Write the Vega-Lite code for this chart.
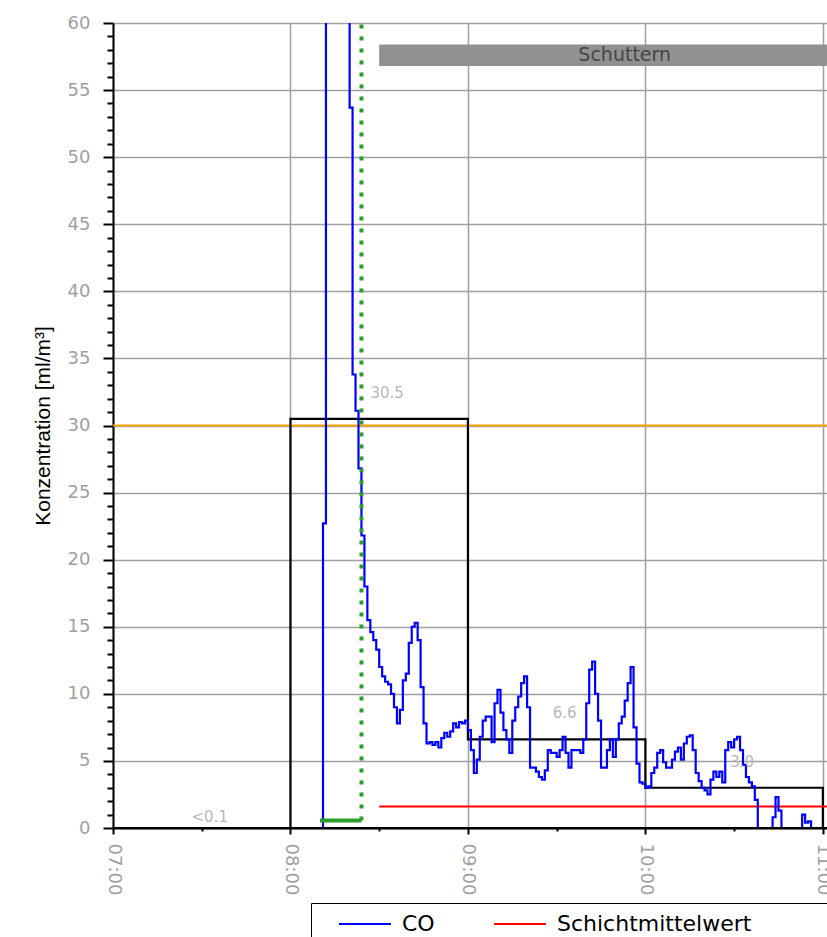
{
  "$schema": "https://vega.github.io/schema/vega-lite/v6.json",
  "width": 714,
  "height": 805,
  "autosize": {"type": "none"},
  "padding": {"left": 113, "top": 23, "right": 0, "bottom": 109},
  "background": "white",
  "config": {"view": {"stroke": null}},
  "encoding": {
    "x": {
      "field": "t",
      "type": "temporal",
      "scale": {
        "domain": ["2024-01-01T07:00:00", "2024-01-01T11:01:24"],
        "nice": false
      },
      "axis": {
        "title": null,
        "values": ["2024-01-01T07:00:00", "2024-01-01T07:30:00", "2024-01-01T08:00:00", "2024-01-01T08:30:00", "2024-01-01T09:00:00", "2024-01-01T09:30:00", "2024-01-01T10:00:00", "2024-01-01T10:30:00", "2024-01-01T11:00:00"],
        "format": "%H:%M",
        "labelExpr": "minutes(datum.value) === 0 ? datum.label : ''",
        "labelAngle": 90,
        "labelAlign": "left",
        "labelBaseline": "middle",
        "labelColor": "#a0a0a0",
        "labelFont": "DejaVu Sans",
        "labelFontSize": 18,
        "labelPadding": 9,
        "labelOverlap": false,
        "labelFlush": false,
        "tickColor": "black",
        "tickWidth": 2,
        "tickSize": 6,
        "tickDash": {"condition": {"test": "minutes(datum.value) === 0", "value": []}, "value": [3, 20]},
        "domainColor": "black",
        "domainWidth": 2,
        "grid": true,
        "gridColor": "#a0a0a0",
        "gridWidth": 1.5,
        "gridOpacity": {"condition": {"test": "minutes(datum.value) === 0", "value": 1}, "value": 0},
        "zindex": 0
      }
    },
    "y": {
      "field": "v",
      "type": "quantitative",
      "scale": {"domain": [0, 60], "nice": false, "zero": false},
      "axis": {
        "title": "Konzentration [ml/m³]",
        "titleFont": "Liberation Sans",
        "titleFontSize": 21,
        "titleFontWeight": "normal",
        "titleColor": "black",
        "titlePadding": 14,
        "values": [0,1,2,3,4,5,6,7,8,9,10,11,12,13,14,15,16,17,18,19,20,21,22,23,24,25,26,27,28,29,30,31,32,33,34,35,36,37,38,39,40,41,42,43,44,45,46,47,48,49,50,51,52,53,54,55,56,57,58,59,60],
        "labelExpr": "datum.value % 5 === 0 ? datum.label : ''",
        "labelColor": "#a0a0a0",
        "labelFont": "DejaVu Sans",
        "labelFontSize": 18,
        "labelPadding": 13,
        "labelOverlap": false,
        "labelFlush": false,
        "tickColor": "black",
        "tickWidth": 2,
        "tickSize": 10,
        "tickDash": {"condition": {"test": "datum.value % 5 === 0", "value": []}, "value": [6, 30]},
        "domainColor": "black",
        "domainWidth": 2,
        "grid": true,
        "gridColor": "#a0a0a0",
        "gridWidth": 1.5,
        "gridOpacity": {"condition": {"test": "datum.value % 5 === 0", "value": 1}, "value": 0},
        "zindex": 0
      }
    }
  },
  "layer": [
    {
      "data": {"values": [{"t": "2024-01-01T07:00:00", "t2": "2024-01-01T12:00:00", "v": 30}]},
      "mark": {"type": "rule", "color": "#ffa500", "strokeWidth": 2, "clip": true},
      "encoding": {"x2": {"field": "t2"}}
    },
    {
      "data": {"values": [{"t": "2024-01-01T08:30:00", "t2": "2024-01-01T11:17:00", "v": 56.8, "v2": 58.4}]},
      "mark": {"type": "rect", "color": "#919191", "clip": true},
      "encoding": {"x2": {"field": "t2"}, "y2": {"field": "v2"}}
    },
    {
      "data": {"values": [{"t": "2024-01-01T09:53:00", "v": 57.6, "label": "Schuttern"}]},
      "mark": {"type": "text", "font": "DejaVu Sans", "fontSize": 19, "color": "#454545", "align": "center", "baseline": "middle"},
      "encoding": {"text": {"field": "label"}}
    },
    {
      "data": {"values": [
        {"t": "2024-01-01T07:00:00", "v": 0},
        {"t": "2024-01-01T08:00:00", "v": 30.5},
        {"t": "2024-01-01T09:00:00", "v": 6.6},
        {"t": "2024-01-01T10:00:00", "v": 3.0},
        {"t": "2024-01-01T11:00:00", "v": 0}
      ]},
      "mark": {"type": "line", "interpolate": "step-after", "color": "black", "strokeWidth": 2.2, "clip": true},
      "encoding": {}
    },
    {
      "data": {"values": [{"t": "2024-01-01T08:30:00", "t2": "2024-01-01T12:00:00", "v": 1.6, "series": "Schichtmittelwert"}]},
      "mark": {"type": "rule", "strokeWidth": 2, "clip": true},
      "encoding": {
        "x2": {"field": "t2"},
        "color": {"field": "series", "type": "nominal", "scale": {"domain": ["CO", "Schichtmittelwert"], "range": ["#0000ff", "#ff0000"]},
          "legend": {
            "orient": "none", "legendX": 198, "legendY": 880, "direction": "horizontal",
            "title": " ", "titleOrient": "right", "titlePadding": 90, "titleFontSize": 44, "titleBaseline": "top",
            "strokeColor": "black", "fillColor": "white", "padding": 0,
            "symbolType": "M-1.3,0H1.3", "symbolSize": 1600, "symbolStrokeWidth": 2, "symbolOffset": 33,
            "labelFont": "DejaVu Sans", "labelFontSize": 22, "labelColor": "black", "labelOffset": 16,
            "columnPadding": 31, "labelLimit": 400
          }
        }
      }
    },
    {
      "data": {"values": [
        {"t": "2024-01-01T08:10:00", "v": 0, "series": "CO"}, {"t": "2024-01-01T08:11:00", "v": 22.7, "series": "CO"}, {"t": "2024-01-01T08:12:00", "v": 80, "series": "CO"}, {"t": "2024-01-01T08:13:00", "v": 80, "series": "CO"},
        {"t": "2024-01-01T08:14:00", "v": 80, "series": "CO"}, {"t": "2024-01-01T08:15:00", "v": 80, "series": "CO"}, {"t": "2024-01-01T08:16:00", "v": 80, "series": "CO"}, {"t": "2024-01-01T08:17:00", "v": 80, "series": "CO"},
        {"t": "2024-01-01T08:18:00", "v": 80, "series": "CO"}, {"t": "2024-01-01T08:19:00", "v": 80, "series": "CO"}, {"t": "2024-01-01T08:20:00", "v": 53.7, "series": "CO"}, {"t": "2024-01-01T08:21:00", "v": 33.8, "series": "CO"},
        {"t": "2024-01-01T08:22:00", "v": 31.1, "series": "CO"}, {"t": "2024-01-01T08:23:00", "v": 26.8, "series": "CO"}, {"t": "2024-01-01T08:24:00", "v": 21.8, "series": "CO"}, {"t": "2024-01-01T08:25:00", "v": 18, "series": "CO"},
        {"t": "2024-01-01T08:26:00", "v": 15.5, "series": "CO"}, {"t": "2024-01-01T08:27:00", "v": 14.6, "series": "CO"}, {"t": "2024-01-01T08:28:00", "v": 14, "series": "CO"}, {"t": "2024-01-01T08:29:00", "v": 13.3, "series": "CO"},
        {"t": "2024-01-01T08:30:00", "v": 12, "series": "CO"}, {"t": "2024-01-01T08:31:00", "v": 11.3, "series": "CO"}, {"t": "2024-01-01T08:32:00", "v": 10.9, "series": "CO"}, {"t": "2024-01-01T08:33:00", "v": 10.7, "series": "CO"},
        {"t": "2024-01-01T08:34:00", "v": 10, "series": "CO"}, {"t": "2024-01-01T08:35:00", "v": 9, "series": "CO"}, {"t": "2024-01-01T08:36:00", "v": 7.8, "series": "CO"}, {"t": "2024-01-01T08:37:00", "v": 8.8, "series": "CO"},
        {"t": "2024-01-01T08:38:00", "v": 11, "series": "CO"}, {"t": "2024-01-01T08:39:00", "v": 11.5, "series": "CO"}, {"t": "2024-01-01T08:40:00", "v": 13.8, "series": "CO"}, {"t": "2024-01-01T08:41:00", "v": 15, "series": "CO"},
        {"t": "2024-01-01T08:42:00", "v": 15.3, "series": "CO"}, {"t": "2024-01-01T08:43:00", "v": 14, "series": "CO"}, {"t": "2024-01-01T08:44:00", "v": 10.5, "series": "CO"}, {"t": "2024-01-01T08:45:00", "v": 7.8, "series": "CO"},
        {"t": "2024-01-01T08:46:00", "v": 6.3, "series": "CO"}, {"t": "2024-01-01T08:47:00", "v": 6.4, "series": "CO"}, {"t": "2024-01-01T08:48:00", "v": 6.2, "series": "CO"}, {"t": "2024-01-01T08:49:00", "v": 6.4, "series": "CO"},
        {"t": "2024-01-01T08:50:00", "v": 6.0, "series": "CO"}, {"t": "2024-01-01T08:51:00", "v": 6.7, "series": "CO"}, {"t": "2024-01-01T08:52:00", "v": 7.1, "series": "CO"}, {"t": "2024-01-01T08:53:00", "v": 6.8, "series": "CO"},
        {"t": "2024-01-01T08:54:00", "v": 7.2, "series": "CO"}, {"t": "2024-01-01T08:55:00", "v": 7.8, "series": "CO"}, {"t": "2024-01-01T08:56:00", "v": 7.5, "series": "CO"}, {"t": "2024-01-01T08:57:00", "v": 7.9, "series": "CO"},
        {"t": "2024-01-01T08:58:00", "v": 7.8, "series": "CO"}, {"t": "2024-01-01T08:59:00", "v": 8, "series": "CO"}, {"t": "2024-01-01T09:00:00", "v": 7.3, "series": "CO"}, {"t": "2024-01-01T09:01:00", "v": 5.8, "series": "CO"},
        {"t": "2024-01-01T09:02:00", "v": 4.1, "series": "CO"}, {"t": "2024-01-01T09:03:00", "v": 5.1, "series": "CO"}, {"t": "2024-01-01T09:04:00", "v": 6.8, "series": "CO"}, {"t": "2024-01-01T09:05:00", "v": 8, "series": "CO"},
        {"t": "2024-01-01T09:06:00", "v": 8.3, "series": "CO"}, {"t": "2024-01-01T09:07:00", "v": 8.3, "series": "CO"}, {"t": "2024-01-01T09:08:00", "v": 6.4, "series": "CO"}, {"t": "2024-01-01T09:09:00", "v": 9.3, "series": "CO"},
        {"t": "2024-01-01T09:10:00", "v": 10.3, "series": "CO"}, {"t": "2024-01-01T09:11:00", "v": 8.6, "series": "CO"}, {"t": "2024-01-01T09:12:00", "v": 7.3, "series": "CO"}, {"t": "2024-01-01T09:13:00", "v": 6.6, "series": "CO"},
        {"t": "2024-01-01T09:14:00", "v": 5.6, "series": "CO"}, {"t": "2024-01-01T09:15:00", "v": 8, "series": "CO"}, {"t": "2024-01-01T09:16:00", "v": 9, "series": "CO"}, {"t": "2024-01-01T09:17:00", "v": 9.8, "series": "CO"},
        {"t": "2024-01-01T09:18:00", "v": 10.8, "series": "CO"}, {"t": "2024-01-01T09:19:00", "v": 11.3, "series": "CO"}, {"t": "2024-01-01T09:20:00", "v": 9, "series": "CO"}, {"t": "2024-01-01T09:21:00", "v": 4.5, "series": "CO"},
        {"t": "2024-01-01T09:22:00", "v": 4.5, "series": "CO"}, {"t": "2024-01-01T09:23:00", "v": 4.2, "series": "CO"}, {"t": "2024-01-01T09:24:00", "v": 3.8, "series": "CO"}, {"t": "2024-01-01T09:25:00", "v": 3.6, "series": "CO"},
        {"t": "2024-01-01T09:26:00", "v": 4.3, "series": "CO"}, {"t": "2024-01-01T09:27:00", "v": 5.8, "series": "CO"}, {"t": "2024-01-01T09:28:00", "v": 5.6, "series": "CO"}, {"t": "2024-01-01T09:29:00", "v": 5.6, "series": "CO"},
        {"t": "2024-01-01T09:30:00", "v": 5.3, "series": "CO"}, {"t": "2024-01-01T09:31:00", "v": 5.8, "series": "CO"}, {"t": "2024-01-01T09:32:00", "v": 6.8, "series": "CO"}, {"t": "2024-01-01T09:33:00", "v": 5.6, "series": "CO"},
        {"t": "2024-01-01T09:34:00", "v": 4.5, "series": "CO"}, {"t": "2024-01-01T09:35:00", "v": 5.8, "series": "CO"}, {"t": "2024-01-01T09:36:00", "v": 5.8, "series": "CO"}, {"t": "2024-01-01T09:37:00", "v": 5.8, "series": "CO"},
        {"t": "2024-01-01T09:38:00", "v": 5.6, "series": "CO"}, {"t": "2024-01-01T09:39:00", "v": 6.6, "series": "CO"}, {"t": "2024-01-01T09:40:00", "v": 9.3, "series": "CO"}, {"t": "2024-01-01T09:41:00", "v": 11.8, "series": "CO"},
        {"t": "2024-01-01T09:42:00", "v": 12.4, "series": "CO"}, {"t": "2024-01-01T09:43:00", "v": 10, "series": "CO"}, {"t": "2024-01-01T09:44:00", "v": 8, "series": "CO"}, {"t": "2024-01-01T09:45:00", "v": 4.5, "series": "CO"},
        {"t": "2024-01-01T09:46:00", "v": 4.5, "series": "CO"}, {"t": "2024-01-01T09:47:00", "v": 5.8, "series": "CO"}, {"t": "2024-01-01T09:48:00", "v": 6.6, "series": "CO"}, {"t": "2024-01-01T09:49:00", "v": 5.3, "series": "CO"},
        {"t": "2024-01-01T09:50:00", "v": 6.6, "series": "CO"}, {"t": "2024-01-01T09:51:00", "v": 7.8, "series": "CO"}, {"t": "2024-01-01T09:52:00", "v": 8.3, "series": "CO"}, {"t": "2024-01-01T09:53:00", "v": 9.5, "series": "CO"},
        {"t": "2024-01-01T09:54:00", "v": 10.8, "series": "CO"}, {"t": "2024-01-01T09:55:00", "v": 12, "series": "CO"}, {"t": "2024-01-01T09:56:00", "v": 7.5, "series": "CO"}, {"t": "2024-01-01T09:57:00", "v": 4.8, "series": "CO"},
        {"t": "2024-01-01T09:58:00", "v": 3.4, "series": "CO"}, {"t": "2024-01-01T09:59:00", "v": 3.3, "series": "CO"}, {"t": "2024-01-01T10:00:00", "v": 3.0, "series": "CO"}, {"t": "2024-01-01T10:01:00", "v": 3.1, "series": "CO"},
        {"t": "2024-01-01T10:02:00", "v": 4.1, "series": "CO"}, {"t": "2024-01-01T10:03:00", "v": 4.5, "series": "CO"}, {"t": "2024-01-01T10:04:00", "v": 5.6, "series": "CO"}, {"t": "2024-01-01T10:05:00", "v": 5.8, "series": "CO"},
        {"t": "2024-01-01T10:06:00", "v": 4.9, "series": "CO"}, {"t": "2024-01-01T10:07:00", "v": 4.5, "series": "CO"}, {"t": "2024-01-01T10:08:00", "v": 4.5, "series": "CO"}, {"t": "2024-01-01T10:09:00", "v": 5.1, "series": "CO"},
        {"t": "2024-01-01T10:10:00", "v": 5.7, "series": "CO"}, {"t": "2024-01-01T10:11:00", "v": 6.0, "series": "CO"}, {"t": "2024-01-01T10:12:00", "v": 5.1, "series": "CO"}, {"t": "2024-01-01T10:13:00", "v": 6.3, "series": "CO"},
        {"t": "2024-01-01T10:14:00", "v": 6.8, "series": "CO"}, {"t": "2024-01-01T10:15:00", "v": 6.9, "series": "CO"}, {"t": "2024-01-01T10:16:00", "v": 5.8, "series": "CO"}, {"t": "2024-01-01T10:17:00", "v": 4.1, "series": "CO"},
        {"t": "2024-01-01T10:18:00", "v": 3.5, "series": "CO"}, {"t": "2024-01-01T10:19:00", "v": 3.0, "series": "CO"}, {"t": "2024-01-01T10:20:00", "v": 2.8, "series": "CO"}, {"t": "2024-01-01T10:21:00", "v": 2.5, "series": "CO"},
        {"t": "2024-01-01T10:22:00", "v": 3.6, "series": "CO"}, {"t": "2024-01-01T10:23:00", "v": 4.2, "series": "CO"}, {"t": "2024-01-01T10:24:00", "v": 3.8, "series": "CO"}, {"t": "2024-01-01T10:25:00", "v": 4.2, "series": "CO"},
        {"t": "2024-01-01T10:26:00", "v": 3.4, "series": "CO"}, {"t": "2024-01-01T10:27:00", "v": 5.8, "series": "CO"}, {"t": "2024-01-01T10:28:00", "v": 6.4, "series": "CO"}, {"t": "2024-01-01T10:29:00", "v": 6.0, "series": "CO"},
        {"t": "2024-01-01T10:30:00", "v": 6.6, "series": "CO"}, {"t": "2024-01-01T10:31:00", "v": 6.8, "series": "CO"}, {"t": "2024-01-01T10:32:00", "v": 5.8, "series": "CO"}, {"t": "2024-01-01T10:33:00", "v": 4.7, "series": "CO"},
        {"t": "2024-01-01T10:34:00", "v": 3.8, "series": "CO"}, {"t": "2024-01-01T10:35:00", "v": 3.4, "series": "CO"}, {"t": "2024-01-01T10:36:00", "v": 3.1, "series": "CO"}, {"t": "2024-01-01T10:37:00", "v": 2.1, "series": "CO"},
        {"t": "2024-01-01T10:38:00", "v": 0, "series": "CO"}, {"t": "2024-01-01T10:39:00", "v": 0, "series": "CO"}, {"t": "2024-01-01T10:40:00", "v": 0, "series": "CO"}, {"t": "2024-01-01T10:41:00", "v": 0, "series": "CO"},
        {"t": "2024-01-01T10:42:00", "v": 0, "series": "CO"}, {"t": "2024-01-01T10:43:00", "v": 0.8, "series": "CO"}, {"t": "2024-01-01T10:44:00", "v": 2.3, "series": "CO"}, {"t": "2024-01-01T10:45:00", "v": 1.3, "series": "CO"},
        {"t": "2024-01-01T10:46:00", "v": 0, "series": "CO"}, {"t": "2024-01-01T10:47:00", "v": 0, "series": "CO"}, {"t": "2024-01-01T10:48:00", "v": 0, "series": "CO"}, {"t": "2024-01-01T10:49:00", "v": 0, "series": "CO"},
        {"t": "2024-01-01T10:50:00", "v": 0, "series": "CO"}, {"t": "2024-01-01T10:51:00", "v": 0, "series": "CO"}, {"t": "2024-01-01T10:52:00", "v": 0, "series": "CO"}, {"t": "2024-01-01T10:53:00", "v": 1.0, "series": "CO"},
        {"t": "2024-01-01T10:54:00", "v": 0.4, "series": "CO"}, {"t": "2024-01-01T10:55:00", "v": 0.5, "series": "CO"}, {"t": "2024-01-01T10:56:00", "v": 0, "series": "CO"}, {"t": "2024-01-01T10:57:00", "v": 0, "series": "CO"},
        {"t": "2024-01-01T10:58:00", "v": 0, "series": "CO"}, {"t": "2024-01-01T10:59:00", "v": 0, "series": "CO"}, {"t": "2024-01-01T11:00:00", "v": 0, "series": "CO"}, {"t": "2024-01-01T11:01:00", "v": 0, "series": "CO"}
      ]},
      "mark": {"type": "line", "interpolate": "step-after", "strokeWidth": 2.2, "clip": true},
      "encoding": {"color": {"field": "series", "type": "nominal"}}
    },
    {
      "data": {"values": [{"t": "2024-01-01T08:24:00", "v": 0.56, "v2": 60}]},
      "mark": {"type": "rule", "color": "#2a9d2a", "strokeWidth": 4, "strokeDash": [4, 8], "clip": true},
      "encoding": {"y2": {"field": "v2"}}
    },
    {
      "data": {"values": [{"t": "2024-01-01T07:00:00", "t2": "2024-01-01T12:00:00", "v": 0}]},
      "mark": {"type": "rule", "color": "black", "strokeWidth": 2, "clip": true},
      "encoding": {"x2": {"field": "t2"}}
    },
    {
      "data": {"values": [{"t": "2024-01-01T08:10:00", "t2": "2024-01-01T08:24:00", "v": 0.56}]},
      "mark": {"type": "rule", "color": "#2a9d2a", "strokeWidth": 4, "clip": true},
      "encoding": {"x2": {"field": "t2"}}
    },
    {
      "data": {"values": [
        {"t": "2024-01-01T07:30:00", "v": 0.8, "label": "<0.1"},
        {"t": "2024-01-01T08:30:00", "v": 32.4, "label": "30.5"},
        {"t": "2024-01-01T09:30:00", "v": 8.6, "label": "6.6"},
        {"t": "2024-01-01T10:30:00", "v": 4.9, "label": "3.0"}
      ]},
      "mark": {"type": "text", "font": "DejaVu Sans", "fontSize": 15, "color": "#b8b8b8", "align": "center", "baseline": "middle", "dx": 8},
      "encoding": {"text": {"field": "label"}}
    }
  ]
}
